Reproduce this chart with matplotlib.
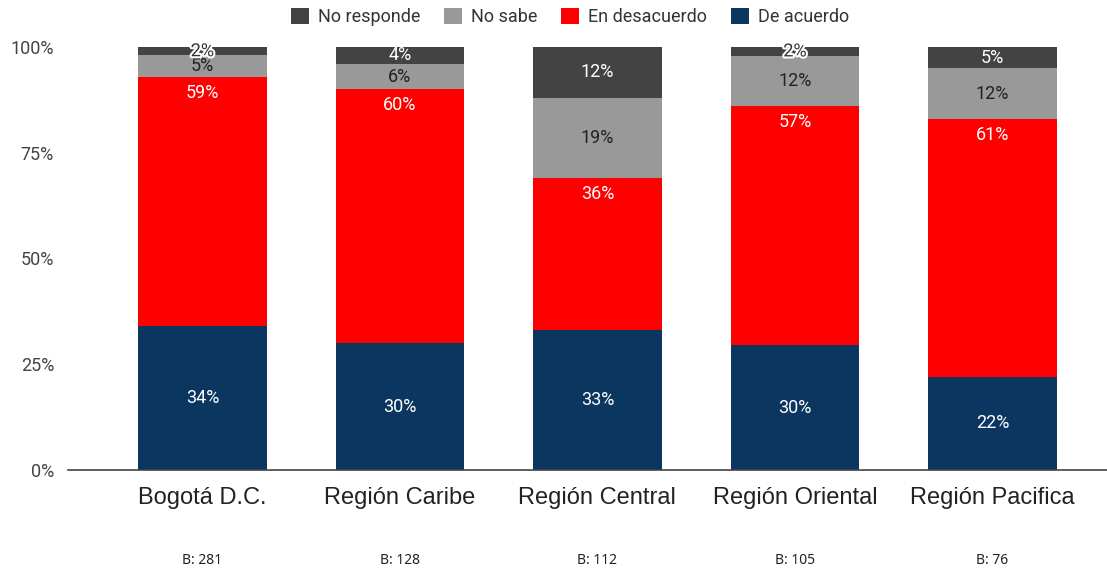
import matplotlib.pyplot as plt
import matplotlib.patheffects as pe
import matplotlib.transforms as mtransforms
import numpy as np

regions = ["Bogotá D.C.", "Región Caribe", "Región Central", "Región Oriental", "Región Pacifica"]
bases = ["B: 281", "B: 128", "B: 112", "B: 105", "B: 76"]

de_acuerdo = [34.0, 30.0, 33.0, 29.5, 22.0]
en_desacuerdo = [59.0, 60.0, 36.0, 56.6, 61.0]
no_sabe = [5.0, 6.0, 19.0, 11.8, 12.0]
no_responde = [2.0, 4.0, 12.0, 2.1, 5.0]

# name, values, bar colour, text colour, label near top?
series = [
    ("De acuerdo", de_acuerdo, "#0b3660", "white", False),
    ("En desacuerdo", en_desacuerdo, "#ff0000", "white", True),
    ("No sabe", no_sabe, "#999999", "#222222", False),
    ("No responde", no_responde, "#434343", "white", False),
]

fig = plt.figure(figsize=(11.07, 5.74), dpi=100)
ax = fig.add_axes([68 / 1107, 104 / 574, 1 - 68 / 1107, 423 / 574])

x = np.arange(len(regions))
bottom = np.zeros(len(regions))
handles = {}
for name, vals, color, tcolor, at_top in series:
    vals = np.array(vals)
    bars = ax.bar(x, vals / 100, 0.65, bottom=bottom / 100, color=color, label=name)
    handles[name] = bars
    for xi, b, v in zip(x, bottom, vals):
        if at_top:
            y = (b + v) / 100 - 0.038
        else:
            y = (b + v / 2) / 100
        txt = f"{round(v):d}%"
        if v < 3:
            ax.text(xi, y, txt, ha="center", va="center", fontsize=13,
                    color="#333333", family="Roboto",
                    path_effects=[pe.withStroke(linewidth=3, foreground="white")])
        else:
            ax.text(xi, y, txt, ha="center", va="center", fontsize=13,
                    color=tcolor, family="Roboto")
    bottom = bottom + vals

ax.set_xlim(-0.68, 4.58)
ax.set_ylim(0, 1.0)
ax.set_yticks([0, 0.25, 0.5, 0.75, 1.0])
ax.set_yticklabels(["0%", "25%", "50%", "75%", "100%"], family="Roboto", fontsize=13, color="#444444")
ax.set_xticks(x)
ax.set_xticklabels(regions, family="Liberation Sans", fontsize=17, color="#222222")
ax.tick_params(axis="both", length=0)
ax.tick_params(axis="x", pad=12)
ax.tick_params(axis="y", pad=10)
for s in ["top", "right", "left"]:
    ax.spines[s].set_visible(False)
ax.spines["bottom"].set_color("#444444")
ax.spines["bottom"].set_linewidth(1.2)

trans = mtransforms.blended_transform_factory(ax.transData, fig.transFigure)
for xi, b in zip(x, bases):
    ax.text(xi, 6 / 574, b, transform=trans, ha="center", va="bottom",
            fontsize=10, family="Noto Sans", color="#222222")

order = ["No responde", "No sabe", "En desacuerdo", "De acuerdo"]
fig.legend([handles[n] for n in order], order, loc="upper center",
           bbox_to_anchor=(570 / 1107, 1.015), ncol=4, frameon=False,
           prop={"family": "Roboto", "size": 13}, handlelength=1.0, handleheight=1.0,
           columnspacing=1.3, handletextpad=0.5, labelcolor="#333333")

fig.savefig("out.png", dpi=100)
